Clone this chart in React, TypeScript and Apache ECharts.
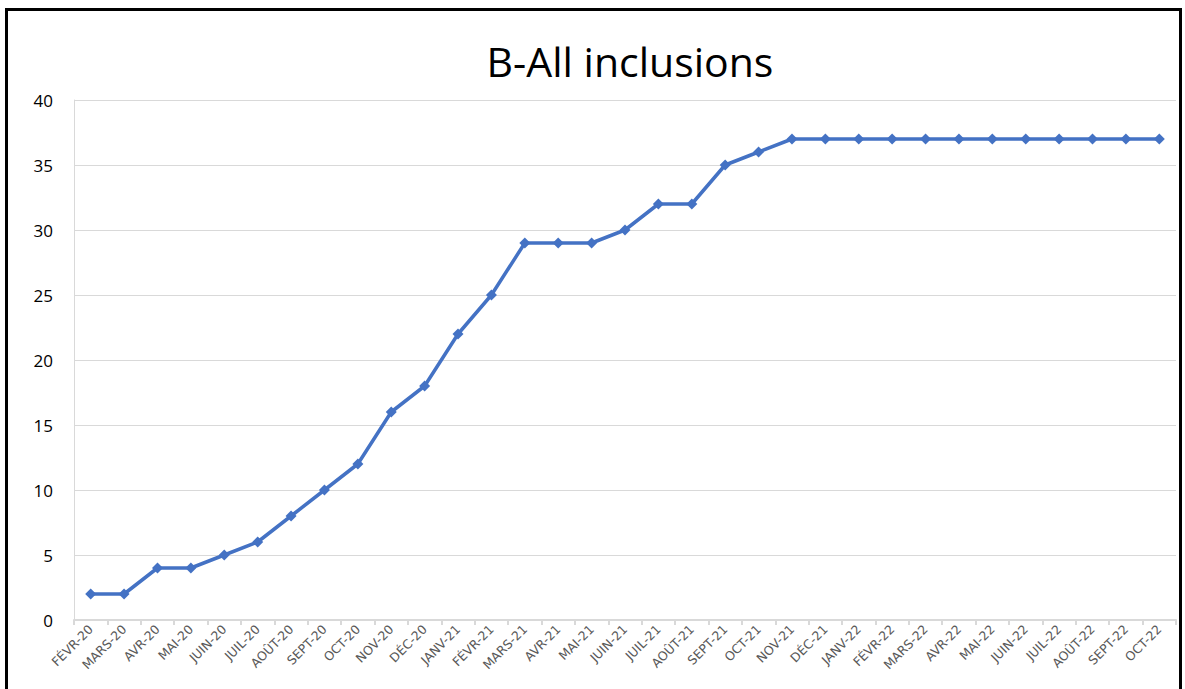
import React, { useEffect, useRef } from "react";
import * as echarts from "echarts";

const categories = [
  "FÉVR-20", "MARS-20", "AVR-20", "MAI-20", "JUIN-20", "JUIL-20", "AOÛT-20", "SEPT-20", "OCT-20", "NOV-20", "DÉC-20",
  "JANV-21", "FÉVR-21", "MARS-21", "AVR-21", "MAI-21", "JUIN-21", "JUIL-21", "AOÛT-21", "SEPT-21", "OCT-21", "NOV-21", "DÉC-21",
  "JANV-22", "FÉVR-22", "MARS-22", "AVR-22", "MAI-22", "JUIN-22", "JUIL-22", "AOÛT-22", "SEPT-22", "OCT-22",
];

const inclusions = [
  2, 2, 4, 4, 5, 6, 8, 10, 12, 16, 18,
  22, 25, 29, 29, 29, 30, 32, 32, 35, 36, 37, 37,
  37, 37, 37, 37, 37, 37, 37, 37, 37, 37,
];

const title = "B-All inclusions";

export default function App() {
  const ref = useRef<HTMLDivElement>(null);
  useEffect(() => {
    const chart = echarts.init(ref.current!, null, { renderer: "svg" });
    chart.setOption({
      animation: false,
      backgroundColor: "#ffffff",
      title: {
        text: title,
        left: 625,
        textAlign: "center",
        top: 35,
        textStyle: { fontFamily: "Open Sans", fontSize: 41, fontWeight: "normal", color: "#000000" },
      },
      graphic: [
        {
          type: "rect",
          shape: { x: 6.5, y: 9.5, width: 1174, height: 700 },
          style: { fill: "none", stroke: "#000000", lineWidth: 3 },
          silent: true,
        },
      ],
      grid: { left: 74, right: 9, top: 100, bottom: 69, containLabel: false },
      xAxis: {
        type: "category",
        data: categories,
        boundaryGap: true,
        axisLine: { show: true, lineStyle: { color: "#d9d9d9", width: 2 } },
        axisTick: { show: true, length: 5, lineStyle: { color: "#d9d9d9", width: 2 } },
        axisLabel: {
          interval: 0,
          rotate: 45,
          margin: 7,
          fontFamily: "DejaVu Sans",
          fontSize: 12.5,
          color: "#595959",
        },
        splitLine: { show: false },
      },
      yAxis: {
        type: "value",
        min: 0,
        max: 40,
        interval: 5,
        axisLine: { show: true, lineStyle: { color: "#d9d9d9", width: 1 } },
        axisTick: { show: false },
        axisLabel: { fontFamily: "Open Sans", fontSize: 17, color: "#000000", margin: 21 },
        splitLine: { show: true, lineStyle: { color: "#d9d9d9", width: 1 } },
      },
      series: [
        {
          type: "line",
          data: inclusions,
          symbol: "diamond",
          symbolSize: 11,
          itemStyle: { color: "#4472C4" },
          lineStyle: { color: "#4472C4", width: 3.5 },
        },
      ],
    });
    return () => chart.dispose();
  }, []);
  return (
    <div
      ref={ref}
      style={{ position: "absolute", left: 0, top: 0, width: 1185, height: 689 }}
    />
  );
}
